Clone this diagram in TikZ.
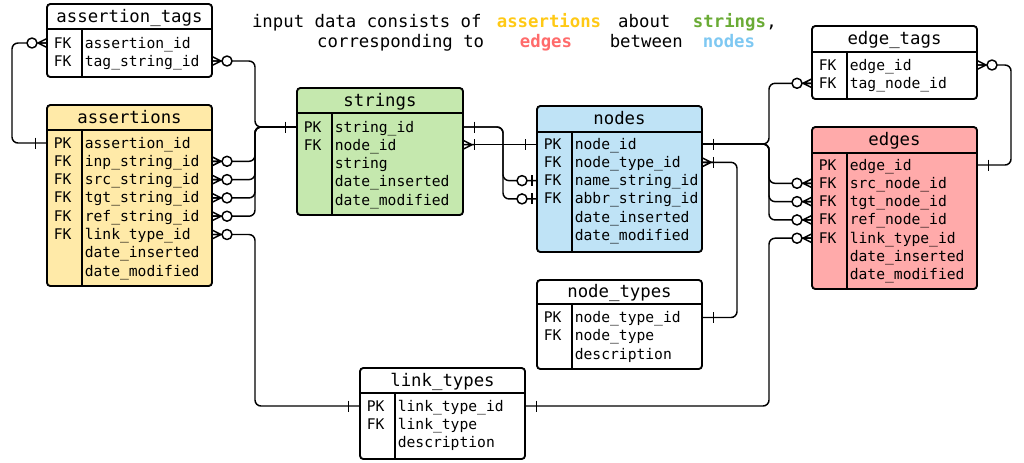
\documentclass[tikz,border=0pt]{standalone}
\usepackage{fontspec}
\setmonofont{DejaVu Sans Mono}
\usetikzlibrary{fit}
\definecolor{cAss}{HTML}{FFEAA8}
\definecolor{cStr}{HTML}{C5E8AE}
\definecolor{cNod}{HTML}{BFE3F6}
\definecolor{cEdg}{HTML}{FFAAAA}
\definecolor{tAss}{HTML}{FFC915}
\definecolor{tStr}{HTML}{6AAB35}
\definecolor{tEdg}{HTML}{FF6B6B}
\definecolor{tNod}{HTML}{7EC8F2}
\tikzset{
  conn/.style={line width=1.1pt, draw=black, rounded corners=4.5pt},
  mk/.style={line width=1.1pt, line join=round},
  tbl/.style={draw, line width=1.4pt, rounded corners=2.5pt, inner sep=0pt, outer sep=0pt},
  rowtxt/.style={font=\ttfamily\fontsize{11}{13}\selectfont, anchor=base west, inner sep=0pt},
  hdtxt/.style={font=\ttfamily\fontsize{13}{15}\selectfont, anchor=base, inner sep=0pt},
  hdb/.style={font=\ttfamily\bfseries\fontsize{13}{15}\selectfont, anchor=base, inner sep=0pt},
  one/.pic={\draw[mk] (11.5,-5.5) -- (11.5,5.5);},
  zmany/.pic={\draw[mk] (0,-4.5) -- (9,0) -- (0,4.5) (0,0) -- (9,0); \draw[mk,fill=white] (15,0) circle[radius=5];},
  zone/.pic={\draw[mk] (5,-5.5) -- (5,5.5); \draw[mk,fill=white] (15,0) circle[radius=5];},
  onemany/.pic={\draw[mk] (0,-4.5) -- (9,0) -- (0,4.5) (0,0) -- (11.5,0); \draw[mk] (11.5,-5.5) -- (11.5,5.5);},
}
\newcommand{\ertable}[9]{%
  \node[tbl, fill=#8, fit={(#2,#3) (#4,#5)}] (#1) {};
  \draw[line width=1.4pt] (#2,#6) -- (#4,#6);
  \draw[line width=1.4pt] (#7,#6) -- (#7,#5);
  \node[hdtxt] (#1-title) at ({(#2+#4)/2}, {(#3+#6)/2+5.5}) {#9};
}
\newcommand{\errows}[5]{%
  \foreach \k/\f [count=\i from 0] in {#5} {
    \node[rowtxt] (#1-k\i) at ({#2+6.5}, {#4+5+18.3*\i}) {\k};
    \node[rowtxt] (#1-f\i) at ({#3+2.5}, {#4+5+18.3*\i}) {\f};
  }}
\begin{document}
\begin{tikzpicture}[x=0.75pt,y=-0.75pt]
\useasboundingbox (0,0) rectangle (1024,462);

% tables
\ertable{atags}{47}{4}{212}{77}{29}{82}{white}{assertion\_tags}
\ertable{assertions}{47}{105}{212}{286}{130}{82}{cAss}{assertions}
\ertable{strings}{297}{88}{463}{215}{113}{332}{cStr}{strings}
\ertable{nodes}{537}{106}{702}{252}{132}{572}{cNod}{nodes}
\ertable{etags}{812}{26}{977}{99}{52}{847}{white}{edge\_tags}
\ertable{edges}{812}{127}{977}{289}{153}{847}{cEdg}{edges}
\ertable{ntypes}{537}{280}{702}{369}{304}{572}{white}{node\_types}
\ertable{ltypes}{360}{368}{525}{459}{393}{395}{white}{link\_types}

\errows{atags}{47}{82}{43}{FK/assertion\_id, FK/tag\_string\_id}
\errows{assertions}{47}{82}{143}{PK/assertion\_id, FK/inp\_string\_id, FK/src\_string\_id, FK/tgt\_string\_id, FK/ref\_string\_id, FK/link\_type\_id, {}/date\_inserted, {}/date\_modified}
\errows{strings}{297}{332}{127}{PK/string\_id, FK/node\_id, {}/string, {}/date\_inserted, {}/date\_modified}
\errows{nodes}{537}{572}{144}{PK/node\_id, FK/node\_type\_id, FK/name\_string\_id, FK/abbr\_string\_id, {}/date\_inserted, {}/date\_modified}
\errows{etags}{812}{847}{65}{FK/edge\_id, FK/tag\_node\_id}
\errows{edges}{812}{847}{165}{PK/edge\_id, FK/src\_node\_id, FK/tgt\_node\_id, FK/ref\_node\_id, FK/link\_type\_id, {}/date\_inserted, {}/date\_modified}
\errows{ntypes}{537}{572}{317.5}{PK/node\_type\_id, FK/node\_type, {}/description}
\errows{ltypes}{360}{395}{406}{PK/link\_type\_id, FK/link\_type, {}/description}

% heading
\node[hdtxt] (h1) at (366.8,27) {input data consists of};
\node[hdb, text=tAss] (h2) at (549,27) {assertions};
\node[hdtxt] (h3) at (644.3,27) {about};
\node[hdb, text=tStr] (h4) at (729.5,27) {strings};
\node[hdtxt, anchor=base west] (h5) at (766,27) {,};
\node[hdtxt] (h6) at (400.7,47) {corresponding to};
\node[hdb, text=tEdg] (h7) at (546,47) {edges};
\node[hdtxt] (h8) at (646.3,47) {between};
\node[hdb, text=tNod] (h9) at (729,47) {nodes};

% connectors
\draw[conn] (assertions.west |- 0,143) -- (12,143) -- (12,43) -- (atags.west |- 0,43);
\draw[conn] (atags.east |- 0,61) -- (255,61) -- (255,127) -- (strings.west |- 0,127);
\foreach \y in {161.3,179.6,197.9,216.2}
  \draw[conn] (assertions.east |- 0,\y) -- (255,\y) -- (255,127) -- (strings.west |- 0,127);
\draw[conn] (assertions.east |- 0,234.5) -- (255,234.5) -- (255,406) -- (ltypes.west |- 0,406);
\foreach \y in {180.6,198.9}
  \draw[conn] (strings.east |- 0,127) -- (503,127) -- (503,\y) -- (nodes.west |- 0,\y);
\draw[conn] (strings.east |- 0,144.7) -- (nodes.west |- 0,144.7);
\draw[conn] (nodes.east |- 0,144) -- (769,144) -- (769,83.3) -- (etags.west |- 0,83.3);
\foreach \y in {183.3,201.6,219.9}
  \draw[conn] (nodes.east |- 0,144) -- (769,144) -- (769,\y) -- (edges.west |- 0,\y);
\draw[conn] (nodes.east |- 0,162.3) -- (737,162.3) -- (737,317.5) -- (ntypes.east |- 0,317.5);
\draw[conn] (etags.east |- 0,65) -- (1011,65) -- (1011,165) -- (edges.east |- 0,165);
\draw[conn] (edges.west |- 0,238.2) -- (769,238.2) -- (769,406) -- (ltypes.east |- 0,406);

% markers
\pic[xscale=-1] at (atags.west |- 0,43) {zmany};
\pic[xscale=-1] at (assertions.west |- 0,143) {one};
\pic at (atags.east |- 0,61) {zmany};
\pic[xscale=-1] at (strings.west |- 0,127) {one};
\foreach \y in {161.3,179.6,197.9,216.2,234.5}
  \pic at (assertions.east |- 0,\y) {zmany};
\pic[xscale=-1] at (ltypes.west |- 0,406) {one};
\pic at (strings.east |- 0,127) {one};
\foreach \y in {180.6,198.9}
  \pic[xscale=-1] at (nodes.west |- 0,\y) {zone};
\pic at (strings.east |- 0,144.7) {onemany};
\pic[xscale=-1] at (nodes.west |- 0,144.7) {one};
\pic at (nodes.east |- 0,144) {one};
\pic[xscale=-1] at (etags.west |- 0,83.3) {zmany};
\foreach \y in {183.3,201.6,219.9,238.2}
  \pic[xscale=-1] at (edges.west |- 0,\y) {zmany};
\pic at (nodes.east |- 0,162.3) {onemany};
\pic at (ntypes.east |- 0,317.5) {one};
\pic at (etags.east |- 0,65) {zmany};
\pic at (edges.east |- 0,165) {one};
\pic at (ltypes.east |- 0,406) {one};
\end{tikzpicture}
\end{document}
